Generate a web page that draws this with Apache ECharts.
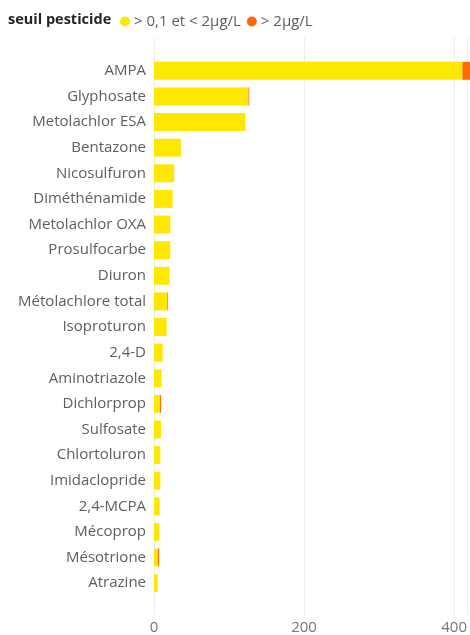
<!DOCTYPE html>
<html>
<head>
<meta charset="utf-8">
<script src="https://cdn.jsdelivr.net/npm/echarts@6/dist/echarts.min.js"></script>
<style>
html,body{margin:0;padding:0;background:#fff;}
#chart{width:470px;height:635px;}
</style>
</head>
<body>
<div id="chart"></div>
<script>
const categories = ['AMPA','Glyphosate','Metolachlor ESA','Bentazone','Nicosulfuron','Diméthénamide','Metolachlor OXA','Prosulfocarbe','Diuron','Métolachlore total','Isoproturon','2,4-D','Aminotriazole','Dichlorprop','Sulfosate','Chlortoluron','Imidaclopride','2,4-MCPA','Mécoprop','Mésotrione','Atrazine'];
const seriesNames = ['> 0,1 et < 2µg/L', '> 2µg/L'];
const valuesLow = [408,125,121,35.6,26.8,24.6,21.6,21.5,20.7,17.6,16.7,11.4,10,7.9,9.2,8.4,8.4,7.5,7,5.3,4.8];
const valuesHigh = [10,1,0,0,0,0,0,0,0,1,0,0,0,1.3,0,0,0,0,0,1.5,0];
const xTicks = [0,200,400];
const legendTitle = 'seuil pesticide';

const FONT = '"Open Sans", "Segoe UI", sans-serif';
const AXMAX = 418;
const chart = echarts.init(document.getElementById('chart'), null, {renderer:'canvas'});
chart.setOption({
  animation:false,
  textStyle:{fontFamily:FONT},
  graphic:[{type:'text', left:8, top:12, style:{text:legendTitle, fontFamily:FONT, fontSize:14.5, fontWeight:'bold', fill:'#252423'}}],
  legend:{
    left:115, top:9, icon:'circle', itemWidth:10, itemHeight:10, itemGap:6,
    textStyle:{fontFamily:FONT, fontSize:15, color:'#605E5C', padding:[0,0,0,-1]},
    data:seriesNames
  },
  grid:[
    {left:154, right:0, top:38, bottom:20},
    {left:154, right:0, top:58, bottom:39}
  ],
  xAxis:[
    {type:'value', gridIndex:0, min:0, max:AXMAX, interval:xTicks[1]-xTicks[0],
     axisLine:{show:false}, axisTick:{show:false},
     splitLine:{lineStyle:{color:'#ececec', width:1}},
     axisLabel:{fontSize:15, color:'#777', margin:5, showMaxLabel:false,
       formatter:v => xTicks.includes(v) ? String(v) : ''}},
    {type:'value', gridIndex:1, min:0, max:AXMAX, show:false}
  ],
  yAxis:[
    {type:'category', gridIndex:0, show:false, data:['']},
    {type:'category', gridIndex:1, data:categories, inverse:true,
     axisLine:{show:false}, axisTick:{show:false},
     axisLabel:{fontSize:15, color:'#605E5C', margin:8}}
  ],
  series:[
    {name:seriesNames[0], type:'bar', stack:'s', xAxisIndex:1, yAxisIndex:1, data:valuesLow,
     itemStyle:{color:'#FFE800'}, barCategoryGap:'30%'},
    {name:seriesNames[1], type:'bar', stack:'s', xAxisIndex:1, yAxisIndex:1, data:valuesHigh,
     itemStyle:{color:'#FF6A00'}, barCategoryGap:'30%'}
  ]
});
</script>
</body>
</html>
